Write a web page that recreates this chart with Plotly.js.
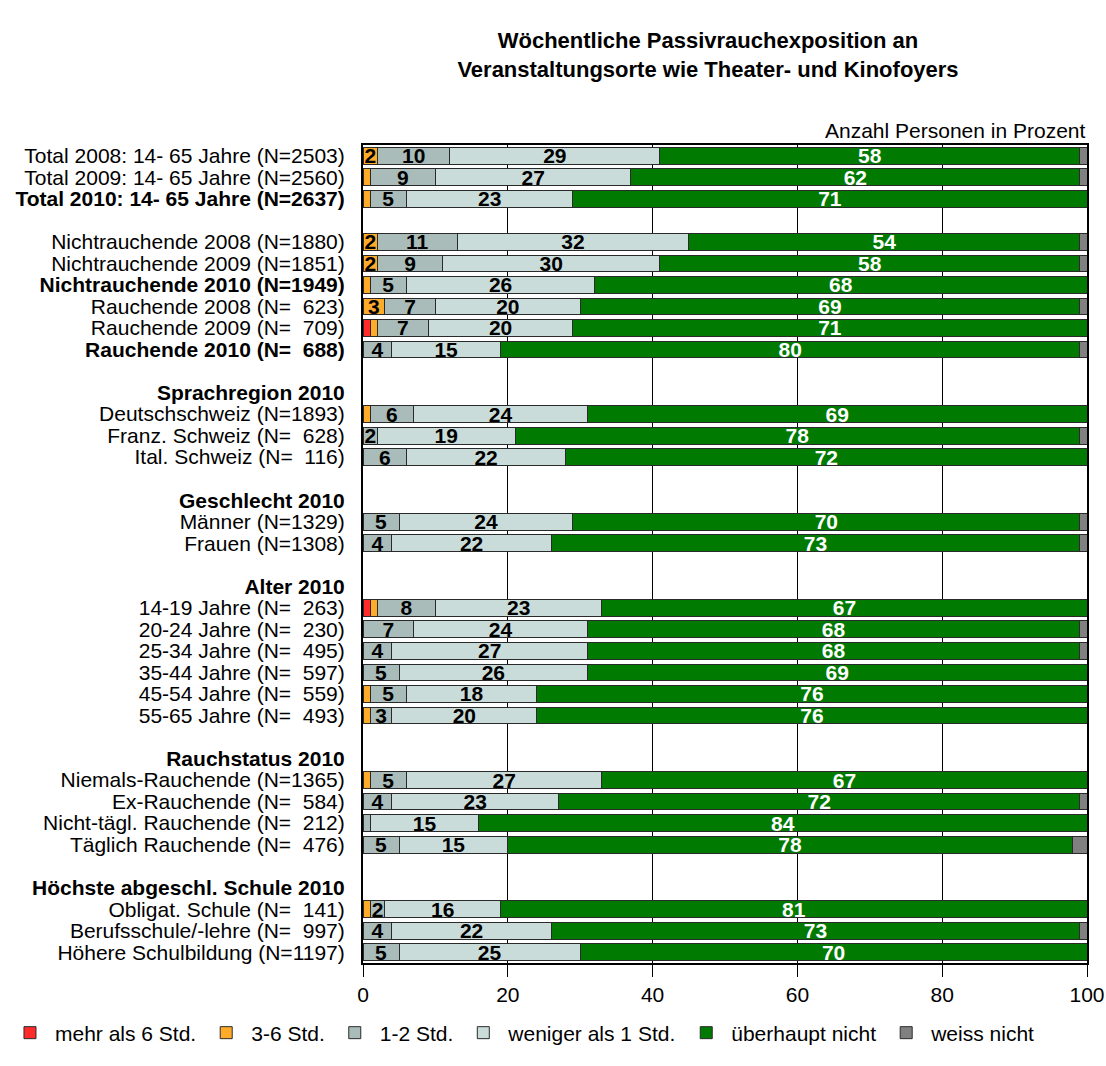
<!DOCTYPE html>
<html>
<head>
<meta charset="utf-8">
<script src="https://cdn.plot.ly/plotly-3.0.1.min.js"></script>
<style>html,body{margin:0;padding:0;background:#fff;}#chart{width:1106px;height:1066px;}</style>
</head>
<body>
<div id="chart"></div>
<script>
// Row labels (top to bottom); '' = empty spacer row
const rowLabels = [
  "Total 2008: 14- 65 Jahre (N=2503)",
  "Total 2009: 14- 65 Jahre (N=2560)",
  "<b>Total 2010: 14- 65 Jahre (N=2637)</b>",
  "",
  "Nichtrauchende 2008 (N=1880)",
  "Nichtrauchende 2009 (N=1851)",
  "<b>Nichtrauchende 2010 (N=1949)</b>",
  "Rauchende 2008 (N=\u00a0\u00a0623)",
  "Rauchende 2009 (N=\u00a0\u00a0709)",
  "<b>Rauchende 2010 (N=\u00a0\u00a0688)</b>",
  "",
  "<b>Sprachregion 2010</b>",
  "Deutschschweiz (N=1893)",
  "Franz. Schweiz (N=\u00a0\u00a0628)",
  "Ital. Schweiz (N=\u00a0\u00a0116)",
  "",
  "<b>Geschlecht 2010</b>",
  "Männer (N=1329)",
  "Frauen (N=1308)",
  "",
  "<b>Alter 2010</b>",
  "14-19 Jahre (N=\u00a0\u00a0263)",
  "20-24 Jahre (N=\u00a0\u00a0230)",
  "25-34 Jahre (N=\u00a0\u00a0495)",
  "35-44 Jahre (N=\u00a0\u00a0597)",
  "45-54 Jahre (N=\u00a0\u00a0559)",
  "55-65 Jahre (N=\u00a0\u00a0493)",
  "",
  "<b>Rauchstatus 2010</b>",
  "Niemals-Rauchende (N=1365)",
  "Ex-Rauchende (N=\u00a0\u00a0584)",
  "Nicht-tägl. Rauchende (N=\u00a0\u00a0212)",
  "Täglich Rauchende (N=\u00a0\u00a0476)",
  "",
  "<b>Höchste abgeschl. Schule 2010</b>",
  "Obligat. Schule (N=\u00a0\u00a0141)",
  "Berufsschule/-lehre (N=\u00a0\u00a0997)",
  "Höhere Schulbildung (N=1197)"
];

// Series values in percent (null = no bar in that row)
const mehrAls6 = [0,0,0,null, 0,0,0,0,1,0, null,null, 0,0,0, null,null, 0,0, null,null, 1,0,0,0,0,0, null,null, 0,0,0,0, null,null, 0,0,0];
const std3bis6 = [2,1,1,null, 2,2,1,3,1,0, null,null, 1,0,0, null,null, 0,0, null,null, 1,0,0,0,1,1, null,null, 1,0,0,0, null,null, 1,0,0];
const std1bis2 = [10,9,5,null, 11,9,5,7,7,4, null,null, 6,2,6, null,null, 5,4, null,null, 8,7,4,5,5,3, null,null, 5,4,1,5, null,null, 2,4,5];
const wenigerAls1 = [29,27,23,null, 32,30,26,20,20,15, null,null, 24,19,22, null,null, 24,22, null,null, 23,24,27,26,18,20, null,null, 27,23,15,15, null,null, 16,22,25];
const ueberhauptNicht = [58,62,71,null, 54,58,68,69,71,80, null,null, 69,78,72, null,null, 70,73, null,null, 67,68,68,69,76,76, null,null, 67,72,84,78, null,null, 81,73,70];
const weissNicht = [1,1,0,null, 1,1,0,1,0,1, null,null, 0,1,0, null,null, 1,1, null,null, 0,1,1,0,0,0, null,null, 0,1,0,2, null,null, 0,1,0];

const seriesNames = ["mehr als 6 Std.", "3-6 Std.", "1-2 Std.", "weniger als 1 Std.", "überhaupt nicht", "weiss nicht"];
const xTicks = [0, 20, 40, 60, 80, 100];

const FONT = "Liberation Sans, Arial, Helvetica, sans-serif";
const colors = ["#ff2a2a", "#ffab2a", "#a9bcb9", "#c9dcd9", "#007a00", "#808080"];
const textColors = ["#000", "#000", "#000", "#000", "#fff", "#000"];
const allSeries = [mehrAls6, std3bis6, std1bis2, wenigerAls1, ueberhauptNicht, weissNicht];
const showLabels = [true, true, true, true, true, false];

const rowPos = rowLabels.map((_, i) => i);

const traces = allSeries.map((vals, k) => ({
  type: "bar",
  orientation: "h",
  name: seriesNames[k],
  x: vals,
  y: rowPos,
  width: 0.78,
  marker: { color: colors[k], line: { color: "#2a2a2a", width: 1 } },
  text: vals.map(v => (showLabels[k] && v !== null && v >= 2) ? String(v) : ""),
  textposition: "inside",
  insidetextanchor: "middle",
  textangle: 0,
  constraintext: "none",
  cliponaxis: false,
  textfont: { family: FONT, size: 21, color: textColors[k], weight: "bold" },
  hoverinfo: "x+name"
}));

const tickRows = rowPos.filter(i => rowLabels[i] !== "");

const layout = {
  width: 1106,
  height: 1066,
  paper_bgcolor: "#fff",
  plot_bgcolor: "#fff",
  barmode: "stack",
  font: { family: FONT, size: 21, color: "#000" },
  margin: { l: 363, r: 19, t: 145, b: 103, autoexpand: false },
  title: {
    text: "<b>Wöchentliche Passivrauchexposition an<br>Veranstaltungsorte wie Theater- und Kinofoyers</b>",
    font: { family: FONT, size: 22, color: "#000" },
    xref: "paper", x: 0.4765, xanchor: "center",
    yref: "container", y: 0.955, yanchor: "top"
  },
  xaxis: {
    range: [0, 100],
    tickvals: xTicks,
    ticktext: xTicks.map(String),
    ticks: "outside", ticklen: 12, tickwidth: 1, tickcolor: "#000",
    showgrid: true, gridcolor: "#000", gridwidth: 1,
    zeroline: false,
    showline: true, linecolor: "#000", linewidth: 2, mirror: true,
    tickfont: { family: FONT, size: 21, color: "#000" },
    fixedrange: true
  },
  yaxis: {
    range: [37.5, -0.5],
    tickvals: tickRows,
    ticktext: tickRows.map(i => rowLabels[i]),
    ticks: "",
    showgrid: false, zeroline: false,
    showline: true, linecolor: "#000", linewidth: 2, mirror: true,
    automargin: false,
    ticklabelstandoff: 12,
    tickfont: { family: FONT, size: 21, color: "#000" },
    fixedrange: true
  },
  showlegend: true,
  legend: {
    orientation: "h",
    traceorder: "normal",
    xref: "paper", x: -0.4945, xanchor: "left",
    yref: "paper", y: -0.0856, yanchor: "middle",
    itemwidth: 40,
    font: { family: FONT, size: 21, color: "#000" },
    bgcolor: "rgba(0,0,0,0)"
  },
  annotations: [{
    text: "Anzahl Personen in Prozent",
    xref: "paper", x: 1, xanchor: "right",
    yref: "paper", y: 1, yanchor: "bottom", yshift: 1,
    showarrow: false,
    font: { family: FONT, size: 21, color: "#000" }
  }]
};

Plotly.newPlot("chart", traces, layout, { displayModeBar: false, staticPlot: true });
</script>
</body>
</html>
